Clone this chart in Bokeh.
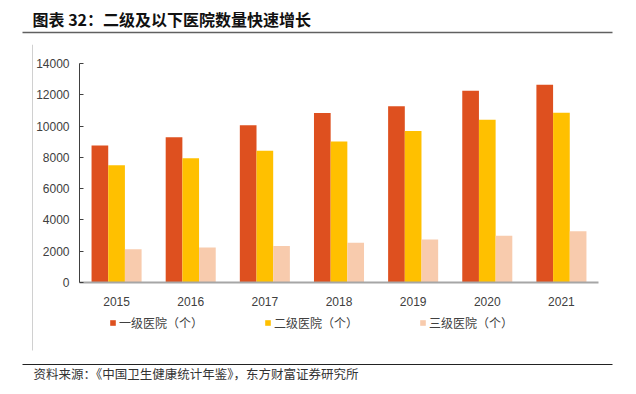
from bokeh.plotting import figure
from bokeh.models import (FactorRange, Range1d, FixedTicker, Legend, LegendItem, ColumnDataSource)
from bokeh.layouts import column, row
from bokeh.transform import dodge
from bokeh.core.properties import value
from bokeh.embed import file_html
from bokeh.resources import INLINE

years = ["2015", "2016", "2017", "2018", "2019", "2020", "2021"]
level1 = [8759, 9282, 10050, 10831, 11264, 12252, 12649]
level2 = [7494, 7944, 8422, 9017, 9687, 10404, 10848]
level3 = [2123, 2232, 2340, 2548, 2749, 2996, 3275]
series_names = ["一级医院（个）", "二级医院（个）", "三级医院（个）"]
y_ticks = [0, 2000, 4000, 6000, 8000, 10000, 12000, 14000]

title_text = "图表 32：二级及以下医院数量快速增长"
source_text = "资料来源：《中国卫生健康统计年鉴》，东方财富证券研究所"

colors = ["#DE501F", "#FFC000", "#F8CBAD"]
CJK = "Noto Sans CJK SC"
NAN = float("nan")


def blank(w, h):
    f = figure(width=w, height=h, x_range=Range1d(0, w), y_range=Range1d(h, 0),
               min_border=0, toolbar_location=None, output_backend="svg",
               x_axis_type=None, y_axis_type=None)
    f.outline_line_color = None
    f.background_fill_color = "white"
    f.border_fill_color = "white"
    f.grid.visible = False
    return f


# header: title + rule
header = blank(636, 44)
header.text(x=[32], y=[18], text=[title_text], text_font=value(CJK), text_font_style="bold",
            text_font_size="16px", text_baseline="middle", text_color="#111111")
header.segment(x0=[22], y0=[32], x1=[612], y1=[32], line_color="#606060", line_width=1.5)

# left strip with thin frame line
strip = blank(33, 312)
strip.segment(x0=[32], y0=[0], x1=[32], y1=[306], line_color="#D0D0D0", line_width=1)

# main chart
src = ColumnDataSource(dict(year=years, l1=level1, l2=level2, l3=level3))
p = figure(width=603, height=264, x_range=FactorRange(*years), y_range=Range1d(0, 14000),
           output_backend="svg", toolbar_location=None,
           min_border_left=46, min_border_right=38, min_border_top=19, min_border_bottom=26)
p.outline_line_color = None
p.background_fill_color = "white"
p.border_fill_color = "white"
p.xgrid.grid_line_color = None
p.ygrid.grid_line_color = None

bw = 0.225
p.vbar(x=dodge("year", -bw, range=p.x_range), top="l1", width=bw, source=src,
       fill_color=colors[0], line_color=None)
p.vbar(x=dodge("year", 0, range=p.x_range), top="l2", width=bw, source=src,
       fill_color=colors[1], line_color=None)
p.vbar(x=dodge("year", bw, range=p.x_range), top="l3", width=bw, source=src,
       fill_color=colors[2], line_color=None)

xa = p.xaxis[0]
xa.axis_line_color = "#A6A6A6"
xa.axis_line_width = 2
xa.major_tick_line_color = None
xa.minor_tick_line_color = None
xa.major_label_standoff = 8
xa.axis_label_standoff = 0
xa.major_label_text_font = "Liberation Sans"
xa.major_label_text_font_size = "12px"
xa.major_label_text_color = "#404040"

ya = p.yaxis[0]
ya.ticker = FixedTicker(ticks=y_ticks)
ya.axis_line_color = "#404040"
ya.major_tick_line_color = "#404040"
ya.major_tick_in = 4
ya.major_tick_out = 0
ya.minor_tick_line_color = None
ya.major_label_standoff = 10
ya.axis_label_standoff = 0
ya.major_label_text_font = "Liberation Sans"
ya.major_label_text_font_size = "12px"
ya.major_label_text_color = "#404040"

# legend strip (legend swatches use NaN proxy renderers in the series colours)
legfig = blank(603, 48)
proxies = [legfig.vbar(x=[NAN], top=[NAN], width=1, fill_color=c, line_color=None)
           for c in colors]
legend = Legend(items=[LegendItem(label=n, renderers=[r]) for n, r in zip(series_names, proxies)],
                orientation="horizontal", location=(30, 25),
                glyph_width=7, glyph_height=7, label_standoff=3, spacing=61,
                padding=0, margin=0, border_line_color=None, background_fill_alpha=0,
                label_text_font=CJK, label_text_font_size="12px",
                label_text_color="#404040")
legfig.add_layout(legend, "center")

# footer: rule + source
footer = blank(636, 38)
footer.segment(x0=[22], y0=[8], x1=[612], y1=[8], line_color="#222222", line_width=1.2)
footer.text(x=[33], y=[16.5], text=[source_text], text_font=value(CJK), text_font_size="12.5px",
            text_baseline="middle", text_color="#333333")

layout = column(header, row(strip, column(p, legfig)), footer)
open("out.html", "w").write(file_html(layout, INLINE))
